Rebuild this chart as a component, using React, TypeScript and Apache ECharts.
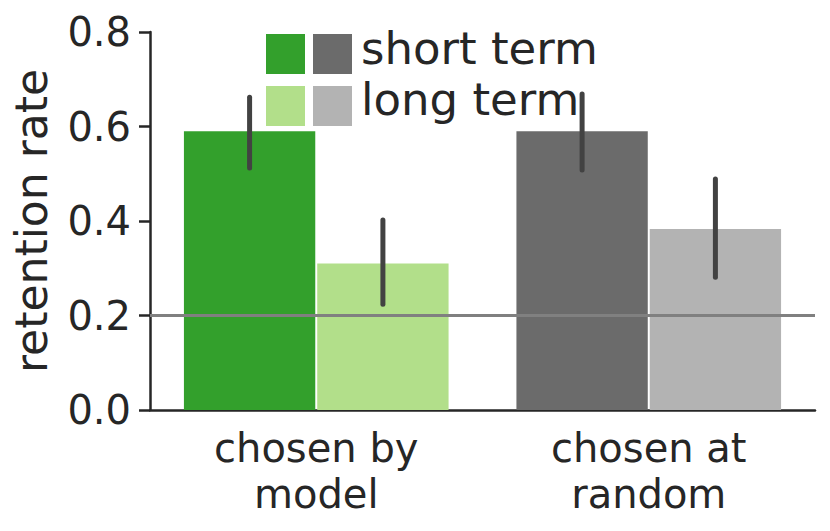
import React, { useEffect, useRef } from "react";
import * as echarts from "echarts";

const categories = ["chosen by\nmodel", "chosen at\nrandom"];
const shortTerm = [0.59, 0.59];
const longTerm = [0.31, 0.383];
const shortErrLow = [0.512, 0.508];
const shortErrHigh = [0.662, 0.669];
const longErrLow = [0.224, 0.281];
const longErrHigh = [0.402, 0.489];
const shortColors = ["#33a02c", "#6b6b6b"];
const longColors = ["#b2df8a", "#b3b3b3"];
const yTicks = [0, 0.2, 0.4, 0.6, 0.8];
const chanceLevel = 0.2;
const legendLabels = ["short term", "long term"];

const FONT = "DejaVu Sans";
const TEXT = "#262626";
const BAR_W = 0.395;
const BAR_GAP = 0.015;

export default function App() {
  const ref = useRef<HTMLDivElement>(null);
  useEffect(() => {
    document.body.style.margin = "0";
    const chart = echarts.init(ref.current!, null, { renderer: "svg" });
    const errData: any[] = [];
    categories.forEach((_, i) => {
      errData.push([i, shortErrLow[i], shortErrHigh[i], -1]);
      errData.push([i, longErrLow[i], longErrHigh[i], 1]);
    });
    chart.setOption({
      animation: false,
      grid: { left: 150, right: 15, top: 32, bottom: 121 },
      xAxis: {
        type: "category",
        data: categories,
        axisLine: { lineStyle: { color: TEXT, width: 2.5 } },
        axisTick: { alignWithLabel: true, length: 12, lineStyle: { color: TEXT, width: 2.5 } },
        axisLabel: { color: TEXT, fontFamily: FONT, fontSize: 40, lineHeight: 46, margin: 15 },
      },
      yAxis: {
        type: "value",
        min: yTicks[0],
        max: yTicks[yTicks.length - 1],
        interval: 0.2,
        name: "retention rate",
        nameLocation: "middle",
        nameGap: 97,
        nameTextStyle: { color: TEXT, fontFamily: FONT, fontSize: 44 },
        splitLine: { show: false },
        axisLine: { show: true, lineStyle: { color: TEXT, width: 2.5 } },
        axisTick: { show: true, length: 11, lineStyle: { color: TEXT, width: 2.5 } },
        axisLabel: {
          color: TEXT,
          fontFamily: FONT,
          fontSize: 40,
          margin: 19,
          formatter: (v: number) => v.toFixed(1),
        },
      },
      series: [
        {
          type: "bar",
          name: legendLabels[0],
          barWidth: BAR_W * 100 + "%",
          barGap: BAR_GAP * 100 + "%",
          data: shortTerm.map((v, i) => ({ value: v, itemStyle: { color: shortColors[i] } })),
        },
        {
          type: "bar",
          name: legendLabels[1],
          barWidth: BAR_W * 100 + "%",
          barGap: BAR_GAP * 100 + "%",
          data: longTerm.map((v, i) => ({ value: v, itemStyle: { color: longColors[i] } })),
        },
        {
          type: "custom",
          z: 5,
          data: errData,
          renderItem: (params: any, api: any) => {
            const x = api.value(0);
            const band = api.size([1, 0])[0];
            const off = (api.value(3) * band * BAR_W * (1 + BAR_GAP)) / 2;
            const lo = api.coord([x, api.value(1)]);
            const hi = api.coord([x, api.value(2)]);
            return {
              type: "line",
              shape: { x1: lo[0] + off, y1: lo[1], x2: hi[0] + off, y2: hi[1] },
              style: { stroke: "#424242", lineWidth: 5, lineCap: "round" },
            };
          },
          markLine: {
            silent: true,
            symbol: "none",
            label: { show: false },
            lineStyle: { color: "#808080", width: 2.8, type: "solid" },
            data: [{ yAxis: chanceLevel }],
          },
        },
      ],
      graphic: [
        { type: "rect", shape: { x: 266, y: 34, width: 39, height: 40 }, style: { fill: shortColors[0] } },
        { type: "rect", shape: { x: 313, y: 34, width: 39, height: 40 }, style: { fill: shortColors[1] } },
        { type: "rect", shape: { x: 266, y: 86, width: 39, height: 40 }, style: { fill: longColors[0] } },
        { type: "rect", shape: { x: 313, y: 86, width: 39, height: 40 }, style: { fill: longColors[1] } },
        {
          type: "text",
          x: 361,
          y: 48,
          style: { text: legendLabels[0], fill: TEXT, font: `45px "${FONT}"`, verticalAlign: "middle" },
        },
        {
          type: "text",
          x: 361,
          y: 99,
          style: { text: legendLabels[1], fill: TEXT, font: `45px "${FONT}"`, verticalAlign: "middle" },
        },
      ],
    });
    return () => chart.dispose();
  }, []);
  return <div ref={ref} style={{ width: 830, height: 531 }} />;
}
